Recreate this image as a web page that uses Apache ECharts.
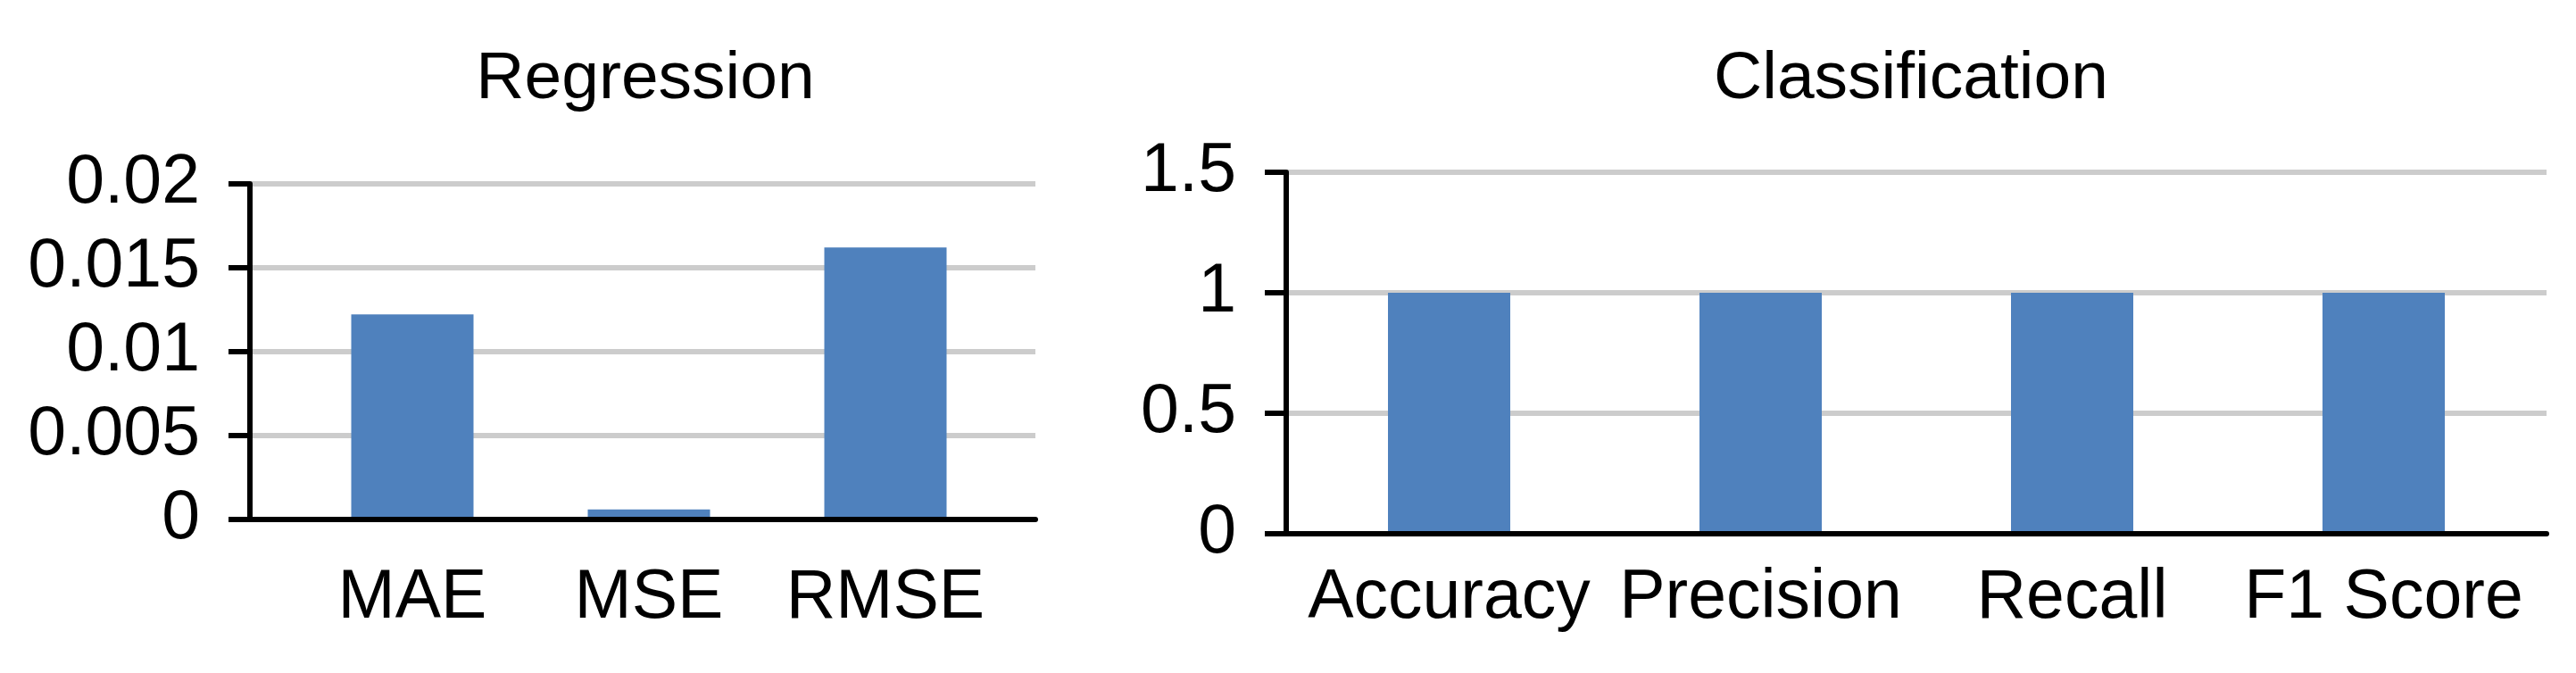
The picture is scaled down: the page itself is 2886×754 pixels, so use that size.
<!DOCTYPE html>
<html>
<head>
<meta charset="utf-8">
<script src="https://cdn.jsdelivr.net/npm/echarts@6/dist/echarts.min.js"></script>
<style>
html,body{margin:0;padding:0;background:#fff;}
#c{width:2886px;height:754px;}
</style>
</head>
<body>
<div id="c"></div>
<script>
// ---- data ----
const regTitle = 'Regression';
const regCategories = ['MAE', 'MSE', 'RMSE'];
const regValues = [0.01222, 0.0006, 0.01621];
const regTicks = ['0', '0.005', '0.01', '0.015', '0.02'];

const clsTitle = 'Classification';
const clsCategories = ['Accuracy', 'Precision', 'Recall', 'F1 Score'];
const clsValues = [1, 1, 1, 1];
const clsTicks = ['0', '0.5', '1', '1.5'];

// ---- styling ----
const FONT = '"Liberation Sans", Arial, sans-serif';
const FS = 77;
const BAR = '#4f81bd';
const GRID = '#cccccc';

const chart = echarts.init(document.getElementById('c'), null, {renderer: 'canvas'});

function decorY(gridIndex, max, interval, ticks) {
  return {
    gridIndex, type: 'value', min: 0, max, interval, z: 0,
    axisLine: {show: true, lineStyle: {color: '#000', width: 6}},
    axisTick: {show: true, inside: false, length: 24, lineStyle: {color: '#000', width: 6}},
    splitLine: {show: true, lineStyle: {color: GRID, width: 6}},
    axisLabel: {
      show: true, margin: 56, color: '#000', fontSize: FS, fontFamily: FONT,
      formatter: (v, i) => ticks[i]
    }
  };
}
function hiddenY(gridIndex, max, interval) {
  return {gridIndex, type: 'value', min: 0, max, interval, show: false,
    splitLine: {show: false}};
}
function decorX(gridIndex) {
  return {gridIndex, type: 'value', min: 0, max: 1, z: 10,
    axisLine: {show: true, onZero: false, lineStyle: {color: '#000', width: 6}},
    axisTick: {show: false}, axisLabel: {show: false}, splitLine: {show: false}};
}
function catX(gridIndex, data, margin) {
  return {gridIndex, type: 'category', data, boundaryGap: true,
    axisLine: {show: false}, axisTick: {show: false}, splitLine: {show: false},
    axisLabel: {show: true, interval: 0, margin, color: '#000', fontSize: FS, fontFamily: FONT}};
}

const option = {
  backgroundColor: '#fff',
  animation: false,
  title: [
    {text: regTitle, left: 718, top: 47, textAlign: 'center',
     textStyle: {fontSize: 75, fontWeight: 'normal', color: '#000', fontFamily: FONT}},
    {text: clsTitle, left: 2136, top: 47, textAlign: 'center',
     textStyle: {fontSize: 75, fontWeight: 'normal', color: '#000', fontFamily: FONT}}
  ],
  grid: [
    {left: 280, top: 206, width: 880, height: 376},
    {left: 329.5, top: 206, width: 795, height: 376},
    {left: 1441, top: 193, width: 1412, height: 405},
    {left: 1449, top: 193, width: 1396, height: 405}
  ],
  xAxis: [
    decorX(0),
    catX(1, regCategories, 50),
    decorX(2),
    catX(3, clsCategories, 34)
  ],
  yAxis: [
    decorY(0, 0.02, 0.005, regTicks),
    hiddenY(1, 0.02, 0.005),
    decorY(2, 1.5, 0.5, clsTicks),
    hiddenY(3, 1.5, 0.5)
  ],
  series: [
    {type: 'bar', xAxisIndex: 1, yAxisIndex: 1, data: regValues, barWidth: 137,
     itemStyle: {color: BAR}, z: 2},
    {type: 'bar', xAxisIndex: 3, yAxisIndex: 3, data: clsValues, barWidth: 137,
     itemStyle: {color: BAR}, z: 2}
  ]
};
chart.setOption(option);
</script>
</body>
</html>
